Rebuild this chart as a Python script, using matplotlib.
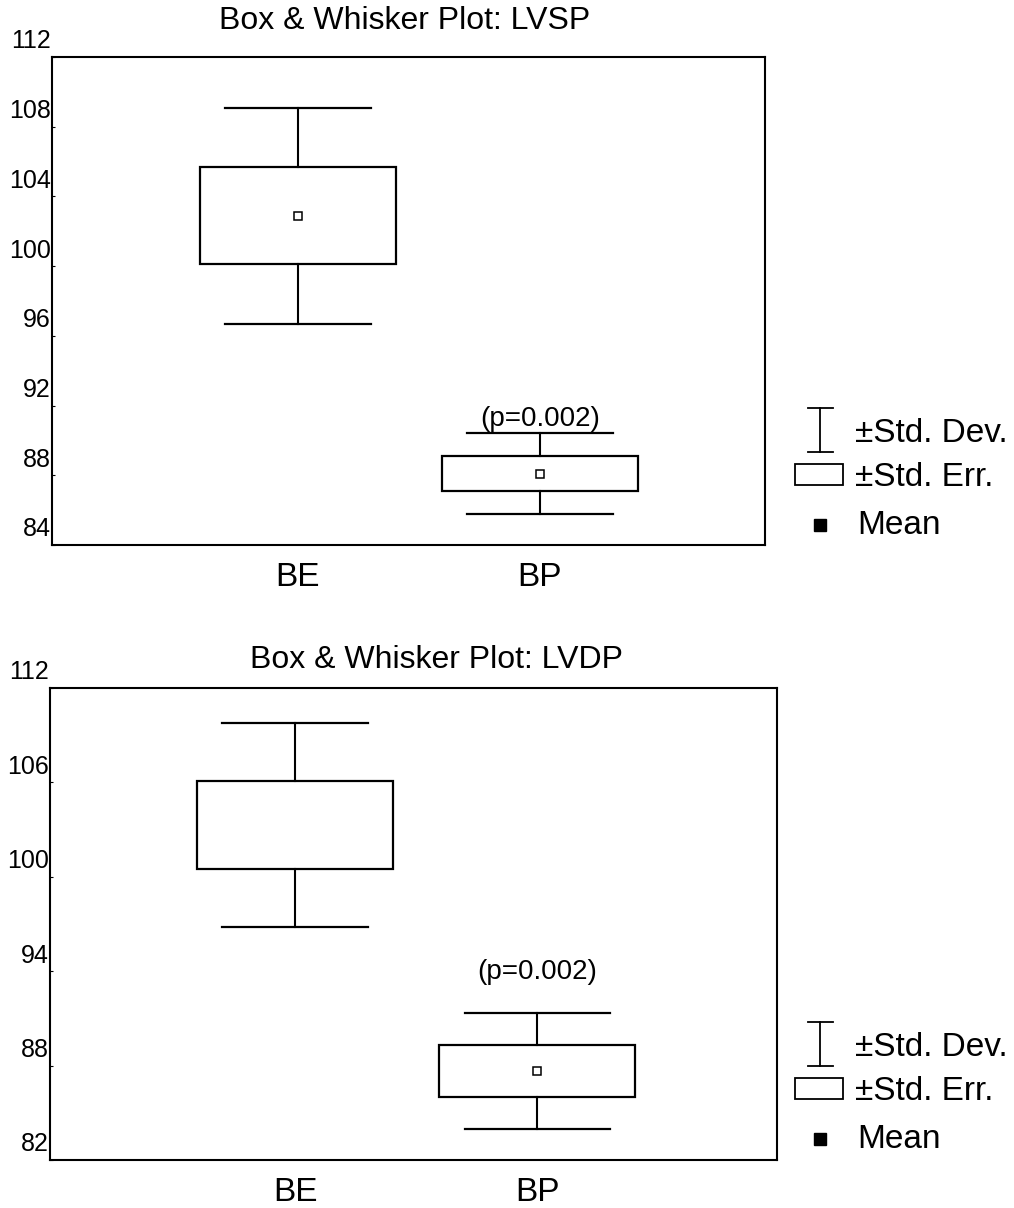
"""Box & whisker plots (mean, +/-SE box, +/-SD whiskers) for LVSP and LVDP."""
import matplotlib

matplotlib.use("Agg")
import matplotlib.pyplot as plt
from matplotlib.patches import Rectangle
from matplotlib.transforms import ScaledTranslation

plt.rcParams["font.family"] = ["Liberation Sans", "DejaVu Sans"]

W, H = 1014, 1208

groups = ["BE", "BP"]

lvsp_mean = [102.9, 88.1]
lvsp_se = [2.8, 1.0]
lvsp_sd = [6.2, 2.3]
lvsp_ticks = [84, 88, 92, 96, 100, 104, 108, 112]

lvdp_mean = [103.3, 87.65]
lvdp_se = [2.8, 1.65]
lvdp_sd = [6.5, 3.7]
lvdp_ticks = [82, 88, 94, 100, 106, 112]

p_text = "(p=0.002)"


def px(x, y):
    """Pixel position (top-left origin) to figure fraction."""
    return x / W, 1 - y / H


def draw_panel(fig, rect, xlim, title, title_xy, means, ses, sds, ticks, ylim,
               show_mean, p_offset, legend_y):
    left, top, right, bottom = rect
    x0, y0 = px(left, bottom)
    x1, y1 = px(right, top)
    ax = fig.add_axes([x0, y0, x1 - x0, y1 - y0])
    ax.set_xlim(*xlim)
    ax.set_ylim(*ylim)

    box_w, cap_w = 0.81, 0.60
    for i, (m, se, sd) in enumerate(zip(means, ses, sds)):
        xc = i + 1
        ax.add_patch(Rectangle((xc - box_w / 2, m - se), box_w, 2 * se,
                               fill=False, lw=1.6, ec="black"))
        ax.plot([xc, xc], [m + se, m + sd], color="black", lw=1.5)
        ax.plot([xc, xc], [m - se, m - sd], color="black", lw=1.5)
        ax.plot([xc - cap_w / 2, xc + cap_w / 2], [m + sd] * 2, color="black", lw=1.6)
        ax.plot([xc - cap_w / 2, xc + cap_w / 2], [m - sd] * 2, color="black", lw=1.6)
        if show_mean[i]:
            ax.plot(xc, m, marker="s", ms=6, mfc="white", mec="black", mew=1.1)

    # p-value above the BP group
    ax.annotate(p_text, (2, means[1] + sds[1]), xytext=(0, p_offset),
                textcoords="offset points", ha="center", va="bottom", fontsize=20)

    ax.set_xticks([1, 2])
    ax.set_xticklabels(groups, fontsize=24)
    ax.tick_params(axis="x", length=0, pad=12)
    ax.set_yticks(ticks)
    ax.set_yticklabels([str(t) for t in ticks], fontsize=18)
    ax.tick_params(axis="y", length=2, direction="in", pad=1)
    shift = ScaledTranslation(0, 13 / 72, fig.dpi_scale_trans)
    for lab in ax.get_yticklabels():
        lab.set_transform(lab.get_transform() + shift)
    for sp in ax.spines.values():
        sp.set_linewidth(1.5)

    tx, ty = px(*title_xy)
    fig.text(tx, ty, title, ha="center", va="center", fontsize=23)

    # legend drawn in pixel space
    lg = fig.add_axes([0, 0, 1, 1], facecolor="none")
    lg.set_xlim(0, W)
    lg.set_ylim(H, 0)
    lg.axis("off")
    ly = legend_y
    lg.plot([820, 820], [ly, ly + 44], color="black", lw=1.3)
    lg.plot([808, 833], [ly, ly], color="black", lw=1.3)
    lg.plot([808, 833], [ly + 44, ly + 44], color="black", lw=1.3)
    lg.text(855, ly + 25, "±Std. Dev.", va="center", fontsize=24)
    lg.add_patch(Rectangle((795, ly + 56), 48, 21, fill=False, ec="black", lw=1.3))
    lg.text(855, ly + 70, "±Std. Err.", va="center", fontsize=24)
    lg.plot(820, ly + 117, marker="s", ms=9, color="black")
    lg.text(857, ly + 117, "Mean", va="center", fontsize=24)
    return ax


fig = plt.figure(figsize=(W / 100, H / 100), dpi=100)

draw_panel(fig, (52, 57, 765, 545), (-0.016, 2.93), "Box & Whisker Plot: LVSP",
           (405, 21), lvsp_mean, lvsp_se, lvsp_sd, lvsp_ticks, (84, 112),
           [True, True], 1, 408)
draw_panel(fig, (50, 688, 777, 1160), (-0.012, 2.99), "Box & Whisker Plot: LVDP",
           (437, 660), lvdp_mean, lvdp_se, lvdp_sd, lvdp_ticks, (82, 112),
           [False, True], 20, 1022)

fig.savefig("out.png", dpi=100)
